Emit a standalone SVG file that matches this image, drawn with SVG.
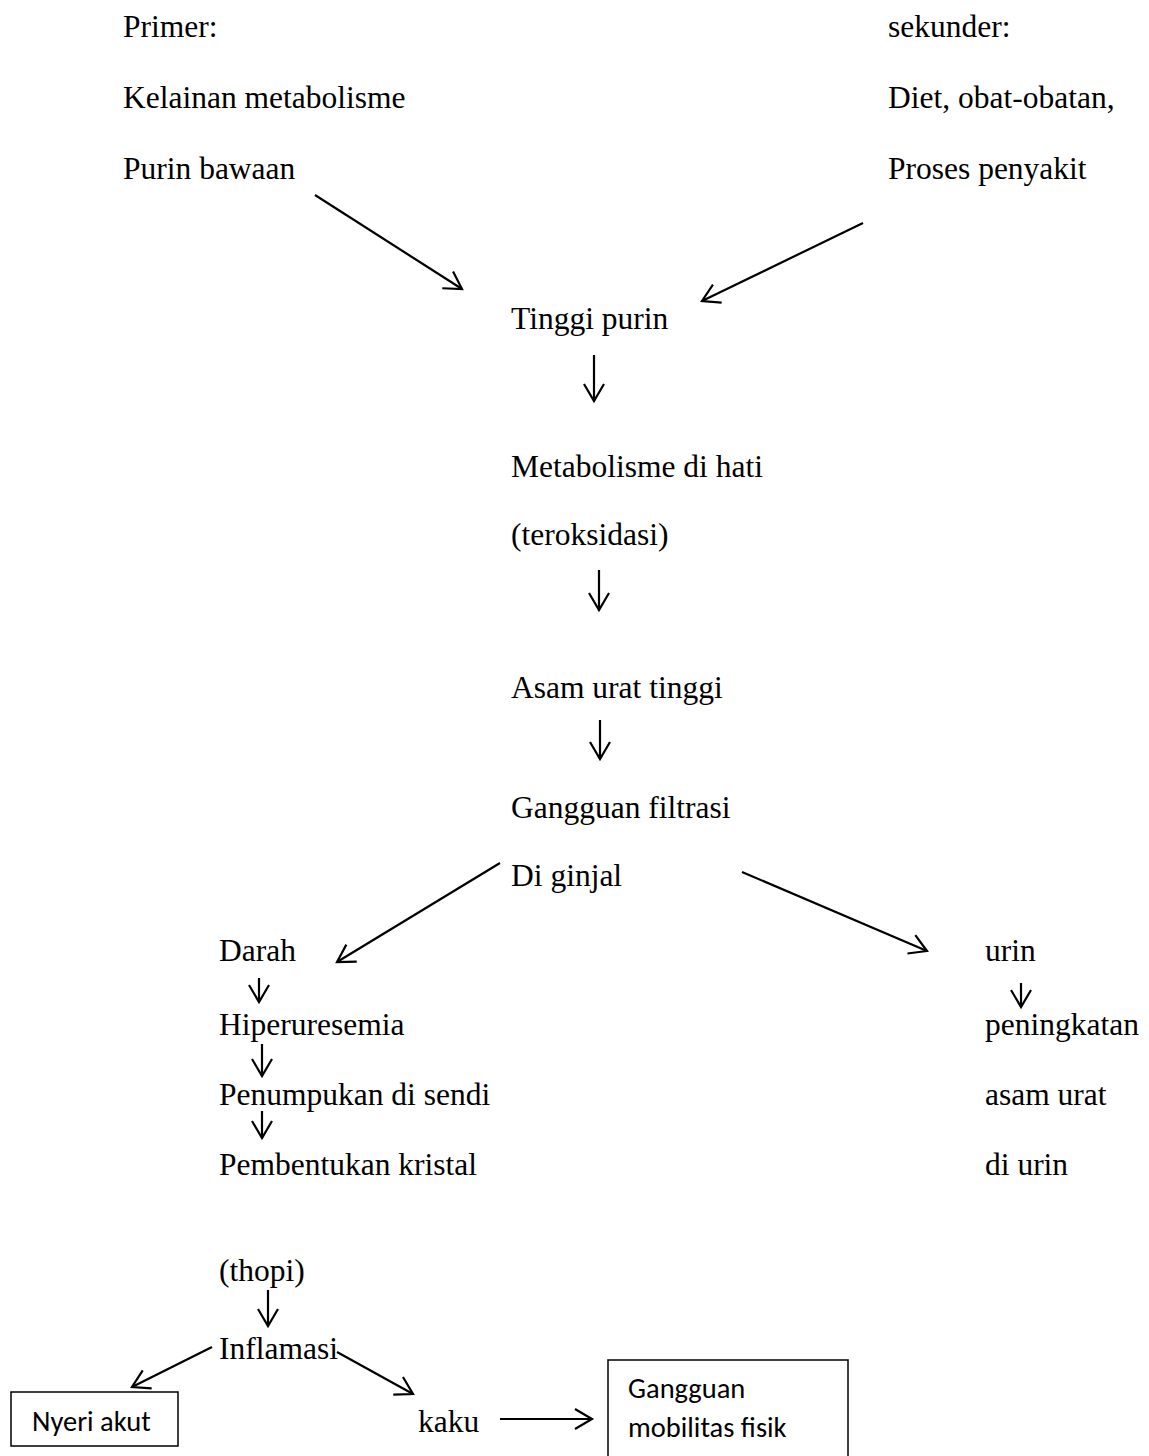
<svg xmlns="http://www.w3.org/2000/svg" width="1149" height="1456" viewBox="0 0 1149 1456">
<style>
.t{font-family:"Liberation Serif","Times New Roman",serif;font-size:31.5px;fill:#000}
.s{font-family:"Carlito","Calibri","Open Sans","Liberation Sans",sans-serif;font-size:28.5px;fill:#000}
.c{stroke:#000;stroke-width:2.2;fill:none}
.b{stroke:#000;stroke-width:1.5;fill:#fff}
</style>
<defs>
<marker id="a" markerWidth="24" markerHeight="24" refX="20" refY="12" orient="auto" markerUnits="userSpaceOnUse">
<path d="M3,2 L20,12 L3,22" fill="none" stroke="#000" stroke-width="2.2"/>
</marker>
</defs>
<rect width="1149" height="1456" fill="#fff"/>
<g id="primer"><text class="t" x="123" y="37">Primer:</text><text class="t" x="123" y="108">Kelainan metabolisme</text><text class="t" x="123" y="179">Purin bawaan</text></g>
<g id="sekunder"><text class="t" x="888" y="37">sekunder:</text><text class="t" x="888" y="108">Diet, obat-obatan,</text><text class="t" x="888" y="179">Proses penyakit</text></g>
<g id="tinggi-purin"><text class="t" x="511" y="329">Tinggi purin</text></g>
<g id="metabolisme"><text class="t" x="511" y="477">Metabolisme di hati</text><text class="t" x="511" y="545">(teroksidasi)</text></g>
<g id="asam-urat"><text class="t" x="511" y="698">Asam urat tinggi</text></g>
<g id="gangguan-filtrasi"><text class="t" x="511" y="818">Gangguan filtrasi</text><text class="t" x="511" y="886">Di ginjal</text></g>
<g id="darah"><text class="t" x="219" y="961">Darah</text></g>
<g id="hiperuresemia"><text class="t" x="219" y="1035">Hiperuresemia</text></g>
<g id="penumpukan"><text class="t" x="219" y="1105">Penumpukan di sendi</text></g>
<g id="pembentukan"><text class="t" x="219" y="1175">Pembentukan kristal</text><text class="t" x="219" y="1281">(thopi)</text></g>
<g id="inflamasi"><text class="t" x="219" y="1359">Inflamasi</text></g>
<g id="urin"><text class="t" x="985" y="961">urin</text></g>
<g id="peningkatan"><text class="t" x="985" y="1035">peningkatan</text><text class="t" x="985" y="1105">asam urat</text><text class="t" x="985" y="1175">di urin</text></g>
<g id="kaku"><text class="t" x="418" y="1432">kaku</text></g>
<g id="nyeri-akut"><rect class="b" x="11" y="1392" width="167" height="54"/><text class="s" x="32" y="1431">Nyeri akut</text></g>
<g id="gangguan-mobilitas"><rect class="b" x="608" y="1360" width="240" height="100"/><text class="s" x="628" y="1398">Gangguan</text><text class="s" x="628" y="1437">mobilitas fisik</text></g>
<g id="connectors">
<line class="c" x1="315" y1="195" x2="462" y2="289" marker-end="url(#a)"/>
<line class="c" x1="863" y1="223" x2="702" y2="301" marker-end="url(#a)"/>
<line class="c" x1="594" y1="355" x2="594" y2="401" marker-end="url(#a)"/>
<line class="c" x1="599" y1="570" x2="599" y2="610" marker-end="url(#a)"/>
<line class="c" x1="600" y1="720" x2="600" y2="759" marker-end="url(#a)"/>
<line class="c" x1="500" y1="863" x2="337" y2="962" marker-end="url(#a)"/>
<line class="c" x1="742" y1="872" x2="927" y2="951" marker-end="url(#a)"/>
<line class="c" x1="259" y1="978" x2="259" y2="1002" marker-end="url(#a)"/>
<line class="c" x1="262" y1="1044" x2="262" y2="1076" marker-end="url(#a)"/>
<line class="c" x1="262" y1="1111" x2="262" y2="1138" marker-end="url(#a)"/>
<line class="c" x1="1021" y1="983" x2="1021" y2="1007" marker-end="url(#a)"/>
<line class="c" x1="268" y1="1290" x2="268" y2="1326" marker-end="url(#a)"/>
<line class="c" x1="212" y1="1347" x2="132" y2="1387" marker-end="url(#a)"/>
<line class="c" x1="337" y1="1352" x2="413" y2="1394" marker-end="url(#a)"/>
<line class="c" x1="500" y1="1419" x2="592" y2="1419" marker-end="url(#a)"/>
</g>
</svg>
